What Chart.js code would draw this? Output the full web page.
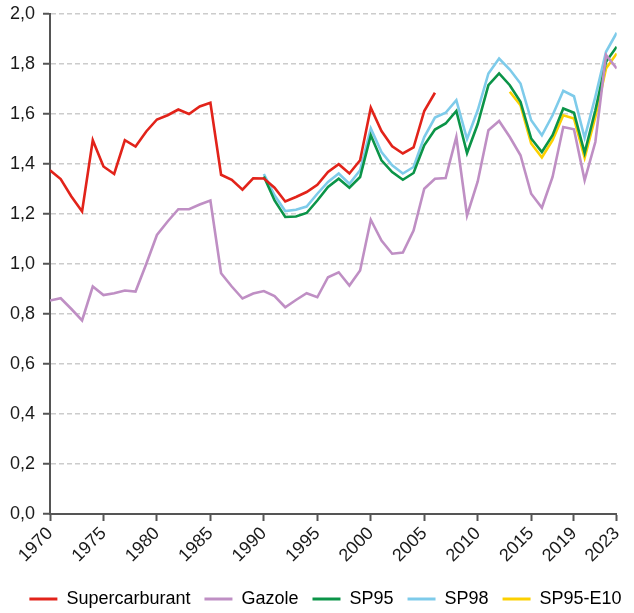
<!DOCTYPE html>
<html>
<head>
<meta charset="utf-8">
<script src="https://cdn.jsdelivr.net/npm/chart.js@4/dist/chart.umd.min.js"></script>
<style>
  body { margin: 0; background: #fff; }
  #wrap { width: 634px; height: 613px; }
</style>
</head>
<body>
<div id="wrap"><canvas id="myChart"></canvas></div>
<script>
// annees affichees sur l'axe
const tickYears = [1970, 1975, 1980, 1985, 1990, 1995, 2000, 2005, 2010, 2015, 2019, 2023];

// Supercarburant : 1970 - 2006
const superStart = 1970;
const superValues = [1.375, 1.34, 1.27, 1.21, 1.495, 1.39, 1.36, 1.495, 1.47, 1.53,
  1.578, 1.595, 1.618, 1.60, 1.63, 1.645, 1.357, 1.337, 1.297, 1.343,
  1.342, 1.305, 1.25, 1.268, 1.288, 1.317, 1.368, 1.399, 1.362, 1.415,
  1.625, 1.532, 1.471, 1.442, 1.466, 1.612, 1.685];

// Gazole : 1970 - 2023
const gazoleStart = 1970;
const gazoleValues = [0.854, 0.863, 0.82, 0.774, 0.91, 0.876, 0.883, 0.894, 0.89, 1.0,
  1.116, 1.17, 1.219, 1.219, 1.238, 1.254, 0.963, 0.91, 0.862, 0.882,
  0.892, 0.872, 0.827, 0.856, 0.883, 0.867, 0.947, 0.967, 0.914, 0.974,
  1.177, 1.094, 1.041, 1.046, 1.134, 1.301, 1.341, 1.344, 1.508, 1.194,
  1.33, 1.535, 1.572, 1.508, 1.435, 1.281, 1.225, 1.348, 1.548, 1.539,
  1.335, 1.488, 1.836, 1.782];

// SP95 : 1990 - 2023
const sp95Start = 1990;
const sp95Values = [1.35, 1.254, 1.188, 1.19, 1.204, 1.254, 1.308, 1.341, 1.305, 1.348,
  1.515, 1.415, 1.368, 1.337, 1.364, 1.475, 1.538, 1.562, 1.612, 1.444,
  1.56, 1.715, 1.762, 1.715, 1.649, 1.502, 1.448, 1.515, 1.622, 1.605,
  1.445, 1.615, 1.809, 1.869];

// SP98 : 1990 - 2023
const sp98Start = 1990;
const sp98Values = [1.36, 1.275, 1.212, 1.217, 1.23, 1.281, 1.328, 1.362, 1.321, 1.375,
  1.542, 1.448, 1.395, 1.362, 1.388, 1.508, 1.586, 1.605, 1.655, 1.50,
  1.615, 1.762, 1.822, 1.778, 1.722, 1.575, 1.515, 1.595, 1.693, 1.671,
  1.505, 1.669, 1.849, 1.925];

// SP95-E10 : 2013 - 2023
const e10Start = 2013;
const e10Values = [1.689, 1.635, 1.482, 1.426, 1.495, 1.595, 1.582, 1.425, 1.588, 1.782, 1.842];

function toPoints(start, values) {
  return values.map((v, i) => ({ x: start + i, y: v }));
}

function serie(label, start, values, color) {
  return {
    label: label,
    data: toPoints(start, values),
    borderColor: color,
    backgroundColor: color,
    borderWidth: 2.6,
    pointRadius: 0,
    tension: 0,
    fill: false
  };
}

const fontFamily = '"Liberation Sans", Arial, sans-serif';
const axisColor = '#555555';

// decale la legende un peu vers la droite, comme sur l'original
const geserLegend = {
  id: 'geserLegend',
  afterLayout(chart) {
    if (chart.legend) {
      chart.legend.left += 13;
      chart.legend.right += 13;
    }
  }
};

const ctx = document.getElementById('myChart').getContext('2d');
new Chart(ctx, {
  type: 'line',
  data: {
    datasets: [
      serie('Supercarburant', superStart, superValues, '#e2231a'),
      serie('Gazole', gazoleStart, gazoleValues, '#bf8fc4'),
      serie('SP95', sp95Start, sp95Values, '#0b9448'),
      serie('SP98', sp98Start, sp98Values, '#7ecbea'),
      serie('SP95-E10', e10Start, e10Values, '#fcd000')
    ]
  },
  plugins: [geserLegend],
  options: {
    responsive: true,
    maintainAspectRatio: false,
    animation: false,
    layout: {
      padding: { top: 14, right: 9, left: 0, bottom: -5 }
    },
    plugins: {
      tooltip: { enabled: false },
      legend: {
        position: 'bottom',
        labels: {
          boxWidth: 28,
          boxHeight: 3,
          padding: 14,
          color: '#1a1a1a',
          font: { family: fontFamily, size: 18 },
          generateLabels: function (chart) {
            return chart.data.datasets.map((ds, i) => ({
              text: ds.label,
              fillStyle: ds.borderColor,
              strokeStyle: ds.borderColor,
              lineWidth: 0,
              hidden: false,
              datasetIndex: i
            }));
          }
        }
      }
    },
    scales: {
      x: {
        type: 'linear',
        min: 1970,
        max: 2023,
        afterBuildTicks: function (scale) {
          scale.ticks = tickYears.map(v => ({ value: v }));
        },
        afterFit: function (scale) {
          scale.height = 62;
        },
        ticks: {
          autoSkip: false,
          minRotation: 45,
          maxRotation: 45,
          padding: 2,
          color: '#1a1a1a',
          font: { family: fontFamily, size: 18 },
          callback: v => String(v)
        },
        grid: {
          drawOnChartArea: false,
          tickLength: 7,
          tickColor: axisColor,
          tickWidth: 2
        },
        border: { color: axisColor, width: 2 }
      },
      y: {
        min: 0,
        max: 2,
        afterFit: function (scale) {
          scale.width = 50;
          scale.paddingTop = 4;
          scale.paddingBottom = 4;
        },
        ticks: {
          stepSize: 0.2,
          padding: 8,
          color: '#1a1a1a',
          font: { family: fontFamily, size: 18 },
          callback: v => v.toFixed(1).replace('.', ',')
        },
        grid: {
          color: '#cccccc',
          lineWidth: 1.5,
          tickLength: 7,
          tickColor: axisColor,
          tickWidth: 2
        },
        border: { color: axisColor, width: 2, dash: [5, 3] }
      }
    }
  }
});
</script>
</body>
</html>
